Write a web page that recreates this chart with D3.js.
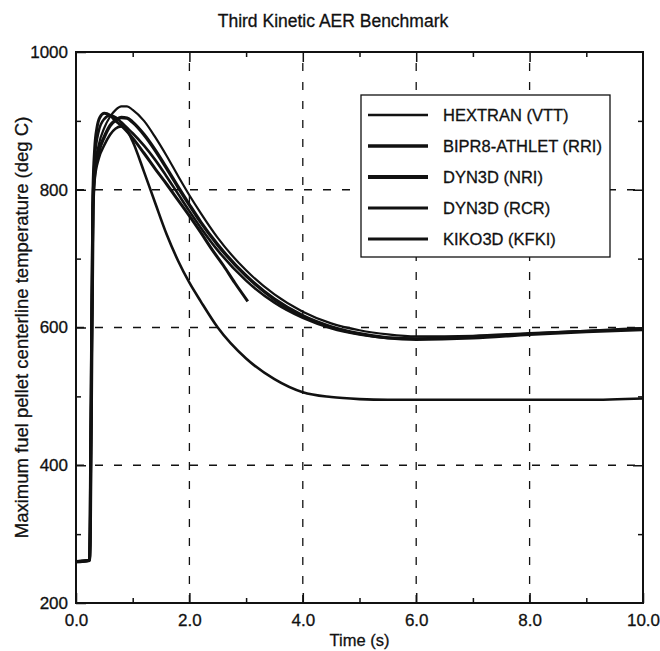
<!DOCTYPE html>
<html>
<head>
<meta charset="utf-8">
<script src="https://cdn.jsdelivr.net/npm/d3@7"></script>
<style>
  body { margin: 0; background: #fff; }
  text { font-family: "Liberation Sans", Arial, sans-serif; fill: #111; stroke: #111; stroke-width: 0.3px; }
</style>
</head>
<body>
<div class="chart"></div>
<script>
// time grid shared by the four full-length runs (s)
var time = [0, 0.24, 0.27, 0.30, 0.33, 0.40, 0.50, 0.60, 0.70, 0.80, 0.90, 1.0, 1.2, 1.4,
  1.6, 1.8, 2.0, 2.2, 2.5, 3.0, 3.5, 4.0, 4.5, 5.0, 5.5, 6.0, 7.0, 8.0, 9.0, 10.0];

var hextran = [260, 262, 500, 780, 830, 865, 890, 906, 916, 921, 921, 916, 900, 876,
  849, 820, 792, 766, 730, 683, 648, 623, 606, 596, 590, 587, 588, 592, 595, 598];
var dyn3dNri = [260, 262, 495, 775, 825, 855, 877, 893, 901, 905, 904, 898, 880, 857,
  831, 804, 778, 753, 720, 675, 641, 617, 601, 591, 585, 583, 585, 590, 594, 597];
var dyn3dRcr = [260, 262, 505, 790, 845, 885, 903, 908, 905, 898, 890, 882, 864, 843,
  819, 794, 769, 745, 712, 668, 636, 614, 599, 590, 585, 584, 586, 591, 595, 599];
var kiko3d = [260, 262, 490, 770, 815, 845, 865, 880, 889, 892, 886, 870, 826, 780,
  735, 697, 665, 638, 600, 555, 525, 506, 499, 496, 495, 495, 495, 495, 495, 497];

// BIPR8 run stops at about 3 s
var timeBipr = [0, 0.24, 0.27, 0.30, 0.33, 0.37, 0.42, 0.50, 0.60, 0.70, 0.80, 1.0, 1.2,
  1.4, 1.6, 1.8, 2.0, 2.2, 2.4, 2.6, 2.8, 3.03];
var bipr8 = [260, 262, 520, 800, 860, 890, 905, 911, 908, 900, 893, 875, 853,
  830, 808, 785, 762, 738, 713, 690, 665, 638];

var names = ['HEXTRAN (VTT)', 'BIPR8-ATHLET (RRI)', 'DYN3D (NRI)', 'DYN3D (RCR)', 'KIKO3D (KFKI)'];
var xTicks = [0, 2, 4, 6, 8, 10];
var yTicks = [200, 400, 600, 800, 1000];

var series = [
  { name: names[0], t: time, v: hextran, w: 2.2 },
  { name: names[1], t: timeBipr, v: bipr8, w: 3 },
  { name: names[2], t: time, v: dyn3dNri, w: 3.4 },
  { name: names[3], t: time, v: dyn3dRcr, w: 2.6 },
  { name: names[4], t: time, v: kiko3d, w: 2.6 }
];

var W = 660, H = 651;
var m = { left: 76, right: 17, top: 52, bottom: 48 };
var FONT = '"Liberation Sans", Arial, sans-serif';

var svg = d3.select('.chart')
  .append('svg')
    .attr('width', W)
    .attr('height', H);

var x = d3.scaleLinear().domain([0, 10]).range([m.left, W - m.right]);
var y = d3.scaleLinear().domain([200, 1000]).range([H - m.bottom, m.top]);

// dashed grid
svg.append('g')
  .selectAll('line')
  .data([2, 4, 6, 8])
  .enter()
    .append('line')
    .attr('x1', d => x(d)).attr('x2', d => x(d))
    .attr('y1', y(200)).attr('y2', y(1000))
    .attr('stroke', '#111').attr('stroke-width', 1.3)
    .attr('stroke-dasharray', '8,11');

svg.append('g')
  .selectAll('line')
  .data([400, 600, 800])
  .enter()
    .append('line')
    .attr('y1', d => y(d)).attr('y2', d => y(d))
    .attr('x1', x(0)).attr('x2', x(10))
    .attr('stroke', '#111').attr('stroke-width', 1.3)
    .attr('stroke-dasharray', '8,11');

// axes: major + minor ticks pointing inward on all four sides
function tickAxis(axis, pos, vals, size, fmt) {
  var g = svg.append('g')
    .attr('transform', pos)
    .call(axis.tickValues(vals).tickSize(size).tickFormat(fmt));
  g.select('.domain').remove();
  g.selectAll('line').attr('stroke', '#111').attr('stroke-width', 1.5);
  g.selectAll('text').attr('font-size', 17).style('font-family', FONT).attr('fill', '#111');
  return g;
}

tickAxis(d3.axisBottom(x).tickPadding(11), 'translate(0,' + y(200) + ')', xTicks, -10, d3.format('.1f'));
tickAxis(d3.axisBottom(x), 'translate(0,' + y(200) + ')', [1, 3, 5, 7, 9], -5, '');
tickAxis(d3.axisTop(x), 'translate(0,' + y(1000) + ')', [1, 3, 5, 7, 9], -5, '');
tickAxis(d3.axisTop(x), 'translate(0,' + y(1000) + ')', [2, 4, 6, 8], -10, '');

tickAxis(d3.axisLeft(y).tickPadding(8), 'translate(' + x(0) + ',0)', yTicks, -10, d3.format('d'));
tickAxis(d3.axisLeft(y), 'translate(' + x(0) + ',0)', [300, 500, 700, 900], -5, '');
tickAxis(d3.axisRight(y), 'translate(' + x(10) + ',0)', [300, 500, 700, 900], -5, '');
tickAxis(d3.axisRight(y), 'translate(' + x(10) + ',0)', [400, 600, 800], -10, '');

// frame
svg.append('rect')
  .attr('x', x(0)).attr('y', y(1000))
  .attr('width', x(10) - x(0)).attr('height', y(200) - y(1000))
  .attr('fill', 'none').attr('stroke', '#111').attr('stroke-width', 2);

// curves
var line = d3.line()
  .x(d => x(d[0]))
  .y(d => y(d[1]))
  .curve(d3.curveMonotoneX);

svg.append('g')
  .selectAll('path')
  .data(series)
  .enter()
    .append('path')
    .attr('d', s => line(s.t.map((t, i) => [t, s.v[i]])))
    .attr('fill', 'none')
    .attr('stroke', '#111')
    .attr('stroke-width', s => s.w)
    .attr('stroke-linejoin', 'round');

// legend
var lg = svg.append('g').attr('transform', 'translate(361,95)');
lg.append('rect')
  .attr('width', 249).attr('height', 162)
  .attr('fill', '#fff').attr('stroke', '#111').attr('stroke-width', 1.3);

var item = lg.selectAll('g.item')
  .data(series)
  .enter()
    .append('g')
    .attr('class', 'item')
    .attr('transform', (d, i) => 'translate(0,' + (20 + i * 31) + ')');

item.append('line')
  .attr('x1', 7).attr('x2', 67)
  .attr('stroke', '#111')
  .attr('stroke-width', d => d.w + 0.4);

item.append('text')
  .attr('x', 82).attr('dy', '0.35em')
  .attr('font-size', 16.5)
  .text(d => d.name);

// titles
svg.append('text')
  .attr('x', 333).attr('y', 27)
  .attr('text-anchor', 'middle')
  .attr('font-size', 17.5)
  .text('Third Kinetic AER Benchmark');

svg.append('text')
  .attr('x', (x(0) + x(10)) / 2).attr('y', 646)
  .attr('text-anchor', 'middle')
  .attr('font-size', 16.5)
  .text('Time (s)');

svg.append('text')
  .attr('transform', 'translate(28,' + ((y(200) + y(1000)) / 2) + ') rotate(-90)')
  .attr('text-anchor', 'middle')
  .attr('font-size', 18.5)
  .text('Maximum fuel pellet centerline temperature (deg C)');
</script>
</body>
</html>
